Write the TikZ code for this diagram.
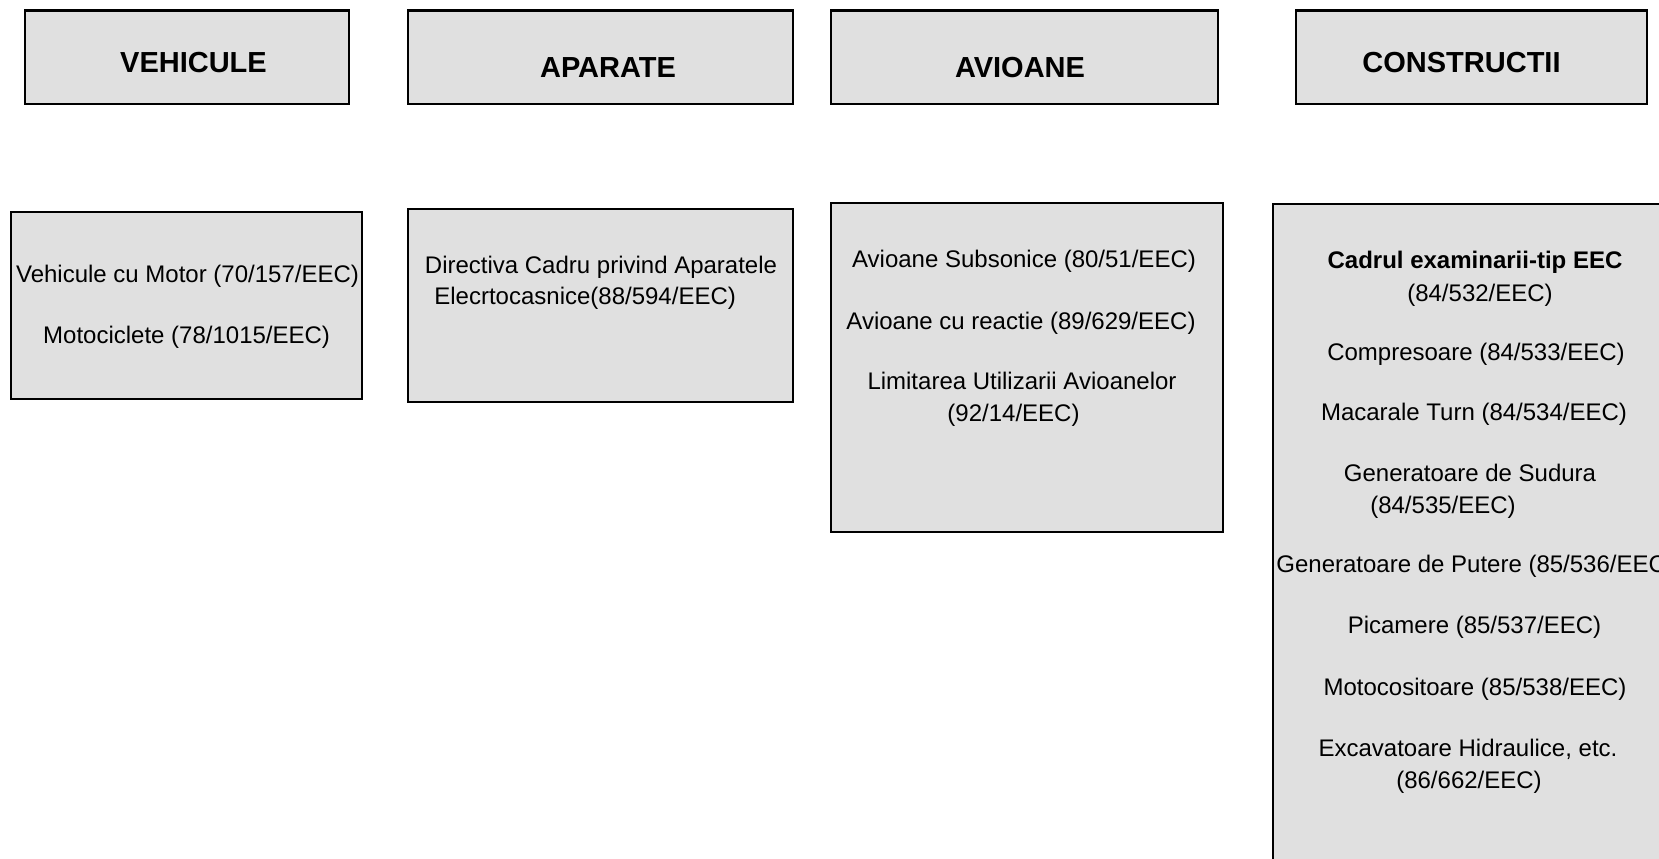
\documentclass[tikz,border=0pt]{standalone}
\usepackage{fontspec}
\setmainfont{Liberation Sans}
\definecolor{boxgray}{HTML}{E0E0E0}
\begin{document}
\begin{tikzpicture}[x=0.5pt,y=-0.5pt,
  box/.style={draw=black, line width=1.2pt, fill=boxgray, inner sep=0pt},
  head/.style={font=\bfseries\fontsize{14.5}{17}\selectfont, anchor=base, inner sep=0pt},
  item/.style={font=\fontsize{12}{14}\selectfont, anchor=base, inner sep=0pt},
  itemw/.style={item, anchor=base west},
]
\useasboundingbox (0,0) rectangle (1659,858);
\clip (0,0) rectangle (1659,858);
\fill[white] (0,0) rectangle (1659,858);

% category headers
\node[box, minimum width=162pt,   minimum height=46.75pt] (hVeh) at (187,57.25)   {};
\node[box, minimum width=192.5pt, minimum height=46.75pt] (hApa) at (600.5,57.25) {};
\node[box, minimum width=193.5pt, minimum height=46.75pt] (hAvi) at (1024.5,57.25) {};
\node[box, minimum width=175.5pt, minimum height=46.75pt] (hCon) at (1471.5,57.25) {};

\node[head] (tVeh) at (193.5,72)  {VEHICULE};
\node[head] (tApa) at (608,77)    {APARATE};
\node[head] (tAvi) at (1020,77)   {AVIOANE};
\node[head] (tCon) at (1461.5,72) {CONSTRUCTII};

% directive boxes
\node[box, minimum width=175.5pt, minimum height=93.5pt]  (bVeh) at (186.5,305.5) {};
\node[box, minimum width=192.5pt, minimum height=96.5pt]  (bApa) at (600.5,305.5) {};
\node[box, minimum width=196pt,   minimum height=164.5pt] (bAvi) at (1027,367.5)  {};
\node[box, minimum width=213.5pt, minimum height=348pt]   (bCon) at (1486.5,552)  {};

% vehicles
\node[item] (v1) at (187.5,282.6) {Vehicule cu Motor (70/157/EEC)};
\node[item] (v2) at (186.6,343.6) {Motociclete (78/1015/EEC)};

% appliances
\node[item]  (a1) at (601,273.2)   {Directiva Cadru privind Aparatele};
\node[itemw] (a2) at (434,304.6)   {Elecrtocasnice(88/594/EEC)};

% aircraft
\node[item] (p1) at (1024,267.6)  {Avioane Subsonice (80/51/EEC)};
\node[item] (p2) at (1021,329.2)  {Avioane cu reactie (89/629/EEC)};
\node[item] (p3) at (1022,389.6)  {Limitarea Utilizarii Avioanelor};
\node[item] (p4) at (1013.5,421.2) {(92/14/EEC)};

% construction equipment
\node[item, font=\bfseries\fontsize{12}{14}\selectfont] (c1) at (1475,268.6) {Cadrul examinarii-tip EEC};
\node[item]  (c2)  at (1480,301.6)  {(84/532/EEC)};
\node[item]  (c3)  at (1476,360.6)  {Compresoare (84/533/EEC)};
\node[item]  (c4)  at (1474,420.2)  {Macarale Turn (84/534/EEC)};
\node[item]  (c5)  at (1470,481.6)  {Generatoare de Sudura};
\node[item]  (c6)  at (1443,513.3)  {(84/535/EEC)};
\node[itemw] (c7)  at (1276,572.6)  {Generatoare de Putere (85/536/EEC)};
\node[item]  (c8)  at (1474.5,633.6) {Picamere (85/537/EEC)};
\node[item]  (c9)  at (1475,695.2)  {Motocositoare (85/538/EEC)};
\node[item]  (c10) at (1468,756.6)  {Excavatoare Hidraulice, etc.};
\node[item]  (c11) at (1469,788.6)  {(86/662/EEC)};
\end{tikzpicture}
\end{document}
